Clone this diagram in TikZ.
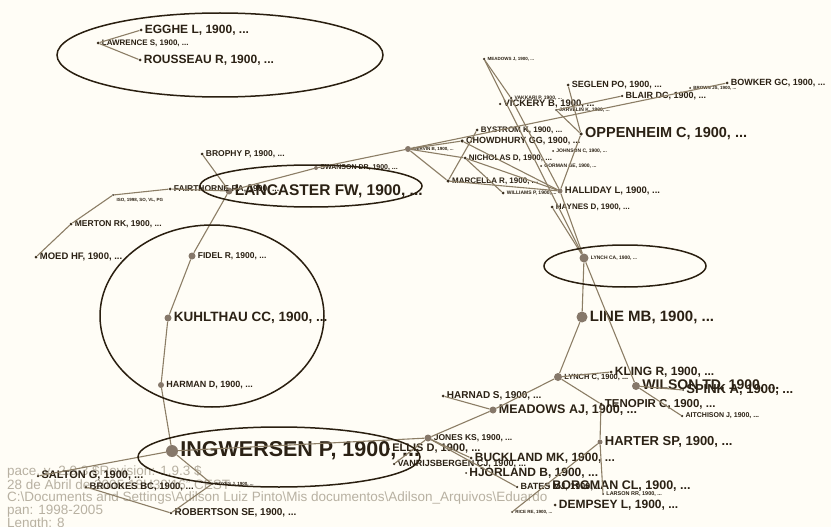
\documentclass[tikz,border=0pt]{standalone}
\usepackage{fontspec}
\setmainfont{Liberation Sans}
\definecolor{paper}{HTML}{FFFDF6}
\definecolor{ink}{HTML}{2B2114}
\definecolor{dk}{HTML}{3A2E1E}
\definecolor{gy}{HTML}{86786A}
\definecolor{edge}{HTML}{8C7E66}
\definecolor{ringc}{HTML}{2A1F10}
\definecolor{stamp}{HTML}{B8B1A2}
\tikzset{
  dot/.style={circle,fill=#1,inner sep=0pt},
  lbl/.style={anchor=west,inner sep=0.5pt,text=ink},
  link/.style={draw=edge,line width=1.1pt},
  ring/.style={draw=ringc,line width=1.5pt},
}

\begin{document}
\begin{tikzpicture}[x=1pt,y=-1pt]
	\fill[paper] (0,0) rectangle (831,527);
	\clip (0,0) rectangle (831,527);
	% stamp text of the export
	\foreach \yy / \ln in {472/{pace, v. 2.0.3 \$Revision: 1.9.3 \$},485/{28 de Abril de 2005 18H30'16'' CEST},498/{C:\textbackslash Documents and Settings\textbackslash Adilson Luiz Pinto\textbackslash Mis documentos\textbackslash Adilson\_Arquivos\textbackslash Eduardo},511/{pan: 1998-2005},524/{Length: 8}}
		{ \node[anchor=west,inner sep=0pt,text=stamp,font=\fontsize{13.5}{13.5}\selectfont] at (7,\yy) {\ln};}
	% authors: name / x / y / dot size / dot colour / font size / label
	\foreach \nm / \px / \py / \ds / \dc / \fs / \tx in {
		egghe/141/30/3/dk/12/{EGGHE L, 1900, ...}, lawrence/98/43/3/dk/8/{LAWRENCE S, 1900, ...},
		rousseau/140/60/3/dk/12/{ROUSSEAU R, 1900, ...},
		meadowsj/484/59/2.5/dk/4.5/{MEADOWS J, 1900, ...}, vakkari/511/98/2.5/dk/5/{VAKKARI P, 1900, ...},
		vickery/500/104/2.5/dk/9.5/{VICKERY B, 1900, ...}, seglen/568/85/3/dk/9/{SEGLEN PO, 1900, ...},
		blair/622/96/2.5/dk/9/{BLAIR DC, 1900, ...}, brown/690/88/2/dk/4.5/{BROWN JS, 1900, ...},
		bowker/727/83/3/dk/9/{BOWKER GC, 1900, ...}, jarvelin/556/110/2/dk/5/{JARVELIN K, 1900, ...},
		oppenheim/581/134/3.5/dk/14.5/{OPPENHEIM C, 1900, ...}, bystrom/477/130/3/dk/8/{BYSTROM K, 1900, ...},
		chowdhury/462/141/3.5/dk/9/{CHOWDHURY GG, 1900, ...}, dervin/408/149/6/gy/4.5/{DERVIN B, 1900, ...},
		johnson/553/151/2/dk/5/{JOHNSON C, 1900, ...}, nicholas/465/158/3/dk/8/{NICHOLAS D, 1900, ...},
		gorman/541/166/2/dk/5/{GORMAN GE, 1900, ...}, marcella/448/181/3.5/dk/8/{MARCELLA R, 1900, ...},
		williams/503/193/3/dk/5/{WILLIAMS P, 1900, ...}, halliday/560/191/5/gy/9.5/{HALLIDAY L, 1900, ...},
		haynes/552/207/3/dk/8/{HAYNES D, 1900, ...}, lynchca/584/258/9/gy/5/{LYNCH CA, 1900, ...},
		linemb/582/317/11/gy/15/{LINE MB, 1900, ...},
		brophy/202/154/3/dk/8.5/{BROPHY P, 1900, ...}, swanson/316/168/4/gy/7/{SWANSON DR, 1900, ...},
		lancaster/229/191/7/gy/15.5/{LANCASTER FW, 1900, ...}, fairthorne/170/189/3/dk/8.5/{FAIRTHORNE RA, 1900, ...},
		iso/113/195/2/dk/4.5/{}, merton/71/224/3/dk/8.5/{MERTON RK, 1900, ...},
		moed/36/257/3/dk/9.5/{MOED HF, 1900, ...}, fidel/192/256/7/gy/8.5/{FIDEL R, 1900, ...},
		kuhlthau/168/318/7/gy/13.5/{KUHLTHAU CC, 1900, ...}, harman/161/385/6/gy/9/{HARMAN D, 1900, ...},
		ingwersen/172/451/12/gy/21.5/{INGWERSEN P, 1900, ...}, ellis/389/449/2/dk/11/{ELLIS D, 1900, ...},
		salton/38/476/2.5/dk/11/{SALTON G, 1900, ...}, brookes/86/487/2.5/dk/9.5/{BROOKES BC, 1900, ...},
		noyes/212/484/2/dk/4.5/{NOYES J, 1900, ...}, robertson/171/513/2.5/dk/10/{ROBERTSON SE, 1900, ...},
		lynchc/558/377/8/gy/7.5/{LYNCH C, 1900, ...}, kling/611/372/3/dk/12/{KLING R, 1900, ...},
		wilson/636/386/8/gy/14/{WILSON TD, 1900, ...}, spink/683/390/2/dk/13/{SPINK A, 1900, ...},
		aitchison/682/416/2.5/dk/7/{AITCHISON J, 1900, ...}, harnad/443/396/3/dk/10/{HARNAD S, 1900, ...},
		meadowsaj/493/410/7/gy/12.5/{MEADOWS AJ, 1900, ...}, tenopir/601/404/3/dk/11.5/{TENOPIR C, 1900, ...},
		jones/428/438/7/gy/8.5/{JONES KS, 1900, ...}, vanrijsbergen/394/464/2.5/dk/9/{VANRIJSBERGEN CJ, 1900, ...},
		buckland/471/458/3/dk/12/{BUCKLAND MK, 1900, ...}, hjorland/466/473/2/dk/12/{HJORLAND B, 1900, ...},
		harter/600/442/5/gy/13/{HARTER SP, 1900, ...}, bates/517/487/2.5/dk/9/{BATES MJ, 1900, ...},
		borgman/549/486/2/dk/12.5/{BORGMAN CL, 1900, ...}, larson/603/494/2/dk/5.5/{LARSON RR, 1900, ...},
		dempsey/555/505/3/dk/12/{DEMPSEY L, 1900, ...}, rice/512/512/2/dk/4.5/{RICE RE, 1900, ...}}
	{
		\node[dot=\dc,minimum size=\ds pt] (\nm) at (\px,\py) {};
		\node[lbl,font=\fontsize{\fs}{\fs}\selectfont\bfseries] (\nm-l) at ([xshift=1.5pt]\nm.east) {\tx};
	}
	\node[lbl,font=\fontsize{4.5}{4.5}\selectfont\bfseries] (iso-l) at ([shift={(3,5)}]iso) {ISO, 1998, SO, VL, PG};
	% co-citation links
	\foreach \a / \b in {lawrence/egghe,lawrence/rousseau,
		brophy/lancaster,fairthorne/lancaster,fairthorne/iso,iso/merton,merton/moed,
		lancaster/fidel,fidel/kuhlthau,kuhlthau/harman,harman/ingwersen,
		lancaster/swanson,swanson/dervin,dervin/bowker,dervin/chowdhury,dervin/nicholas,dervin/marcella,
		marcella/bystrom,marcella/halliday,nicholas/halliday,nicholas/williams,chowdhury/halliday,
		meadowsj/vakkari,meadowsj/lynchca,vakkari/halliday,
		seglen/oppenheim,jarvelin/oppenheim,jarvelin/blair,oppenheim/halliday,
		halliday/lynchca,haynes/lynchca,lynchca/linemb,lynchca/wilson,linemb/lynchc,
		lynchc/kling,lynchc/meadowsaj,lynchc/tenopir,wilson/aitchison,wilson/spink,
		meadowsaj/harnad,meadowsaj/jones,jones/ingwersen,jones/buckland,jones/bates,jones/vanrijsbergen,
		tenopir/harter,harter/rice,harter/larson,
		ingwersen/salton,ingwersen/noyes,noyes/robertson,brookes/robertson}
		{ \draw[link] (\a) -- (\b);}
	% clusters marked by hand
	\draw[ring] (220,55) ellipse (163pt and 42pt);
	\draw[ring] (311,186) ellipse (111pt and 21pt);
	\draw[ring] (212,316) ellipse (112pt and 91pt);
	\draw[ring] (625,266) ellipse (81pt and 21pt);
	\draw[ring] (279,457) ellipse (141pt and 30pt);
\end{tikzpicture}
\end{document}
